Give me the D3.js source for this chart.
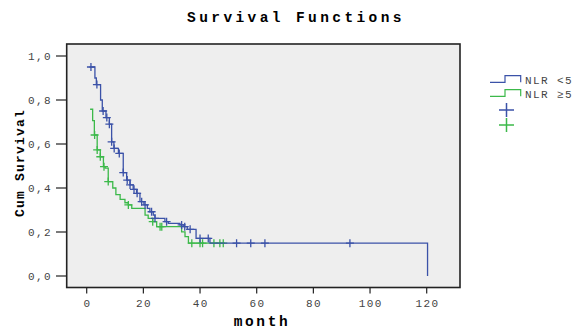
<!DOCTYPE html>
<html>
<head>
<meta charset="utf-8">
<script src="https://cdn.jsdelivr.net/npm/d3@7"></script>
<style>
  body { margin: 0; background: #fff; }
  svg text { font-family: "Liberation Mono", "DejaVu Sans Mono", monospace; }
</style>
</head>
<body>
<svg id="chart" width="577" height="329"></svg>
<script>
// group labels
let groups = ["NLR <5", "NLR \u22655"];
let colors = ["#3b52a8", "#3cb94a"];

// step curves: time (month) at which survival drops, and new survival
let blueTimes = [1, 2.9, 3.4, 4.9, 5.5, 6.8, 8.0, 8.8, 9.6, 11.2, 12.9, 14.1, 15.3, 16.4, 17.6, 18.8, 20.2, 21.4, 22.3, 23.5, 24.1, 27.6, 28.8, 32.9, 34.3, 35.5, 38.6, 43.5];
let blueSurv = [0.95, 0.90, 0.87, 0.80, 0.75, 0.72, 0.69, 0.61, 0.58, 0.557, 0.47, 0.436, 0.414, 0.394, 0.376, 0.338, 0.323, 0.307, 0.292, 0.277, 0.262, 0.247, 0.239, 0.232, 0.224, 0.212, 0.171, 0.149];
let blueEnd = 120.3;
let blueCensor = [1.5, 3.6, 5.8, 7.1, 8.0, 8.8, 9.7, 11.5, 12.9, 14.3, 15.3, 16.7, 17.8, 19.4, 20.6, 22.9, 24.1, 28.2, 33.5, 34.6, 36.5, 40, 42.9, 52.9, 57.9, 62.9, 92.9];

let greenTimes = [1.2, 2.1, 2.7, 3.7, 4.8, 5.9, 6.5, 7.6, 9.2, 10.3, 11.8, 13.5, 14.7, 15.9, 20.6, 21.7, 23.3, 24.7, 33.5, 34.7, 35.9];
let greenSurv = [0.758, 0.706, 0.641, 0.573, 0.542, 0.497, 0.49, 0.429, 0.40, 0.37, 0.348, 0.333, 0.323, 0.307, 0.277, 0.262, 0.247, 0.224, 0.201, 0.179, 0.149];
let greenEnd = 48.8;
let greenCensor = [2.8, 3.7, 4.8, 6.1, 7.6, 14.7, 23.3, 25.9, 26.5, 37.1, 40, 40.9, 44.9, 47, 48.2];

let xTicks = [0, 20, 40, 60, 80, 100, 120];
let yTicks = [0, 0.2, 0.4, 0.6, 0.8, 1.0];

let svg = d3.select("#chart");

let x = d3.scaleLinear().domain([0, 120]).range([86.7, 426.7]);
let y = d3.scaleLinear().domain([0, 1]).range([276, 56]);

let frame = {left: 66.7, top: 44, right: 460, bottom: 287.5};

svg.append("rect")
    .attr("x", frame.left).attr("y", frame.top)
    .attr("width", frame.right - frame.left).attr("height", frame.bottom - frame.top)
    .attr("fill", "#eeeeee")
    .attr("stroke", "#222").attr("stroke-width", 1.6);

function survAt(times, surv, t) {
    let s = surv[0];
    for (let i = 0; i < times.length; i++) {
        if (t >= times[i]) s = surv[i];
    }
    return s;
}

function stepPath(times, surv, end, drop) {
    let pts = [];
    for (let i = 0; i < times.length; i++) {
        if (i > 0) pts.push([times[i], surv[i - 1]]);
        pts.push([times[i], surv[i]]);
    }
    pts.push([end, surv[surv.length - 1]]);
    if (drop) pts.push([end, 0]);
    return d3.line().x(d => x(d[0])).y(d => y(d[1]))(pts);
}

let series = [
    {times: blueTimes, surv: blueSurv, end: blueEnd, censor: blueCensor, drop: true},
    {times: greenTimes, surv: greenSurv, end: greenEnd, censor: greenCensor, drop: false}
];

// draw green first so blue sits on top
[1, 0].forEach(i => {
    let s = series[i];
    let g = svg.append("g");
    g.append("path")
        .attr("d", stepPath(s.times, s.surv, s.end, s.drop))
        .attr("fill", "none")
        .attr("stroke", colors[i])
        .attr("stroke-width", 1.3);
    g.selectAll("path.c")
        .data(s.censor)
        .enter().append("path")
        .attr("class", "c")
        .attr("d", t => {
            let cx = x(t), cy = y(survAt(s.times, s.surv, t));
            return "M" + (cx - 4) + "," + cy + "H" + (cx + 4) + "M" + cx + "," + (cy - 4) + "V" + (cy + 4);
        })
        .attr("stroke", colors[i])
        .attr("stroke-width", 1.3);
});

// y axis
let yAxis = svg.append("g");
yAxis.selectAll("line")
    .data(yTicks)
    .enter().append("line")
    .attr("x1", 56).attr("x2", frame.left)
    .attr("y1", d => y(d)).attr("y2", d => y(d))
    .attr("stroke", "#222").attr("stroke-width", 1.2);
yAxis.selectAll("text")
    .data(yTicks)
    .enter().append("text")
    .attr("x", 52).attr("y", d => y(d) + 4)
    .attr("text-anchor", "end")
    .attr("font-size", 11)
    .attr("letter-spacing", 1.4)
    .attr("fill", "#444")
    .text(d => d3.format(".1f")(d).replace(".", ","));

// x axis
let xAxis = svg.append("g");
xAxis.selectAll("line")
    .data(xTicks)
    .enter().append("line")
    .attr("x1", d => x(d)).attr("x2", d => x(d))
    .attr("y1", frame.bottom).attr("y2", frame.bottom + 6)
    .attr("stroke", "#222").attr("stroke-width", 1.2);
xAxis.selectAll("text")
    .data(xTicks)
    .enter().append("text")
    .attr("x", d => x(d) + 0.7).attr("y", 307)
    .attr("text-anchor", "middle")
    .attr("font-size", 11)
    .attr("letter-spacing", 1.4)
    .attr("fill", "#444")
    .text(d => d);

// titles
svg.append("text")
    .attr("x", 296).attr("y", 22)
    .attr("text-anchor", "middle")
    .attr("font-size", 14.5).attr("font-weight", "bold")
    .attr("letter-spacing", 3.4)
    .text("Survival Functions");

svg.append("text")
    .attr("x", 262).attr("y", 326)
    .attr("text-anchor", "middle")
    .attr("font-size", 14.5).attr("font-weight", "bold")
    .attr("letter-spacing", 2.6)
    .text("month");

svg.append("text")
    .attr("transform", "translate(24,163) rotate(-90)")
    .attr("text-anchor", "middle")
    .attr("font-size", 13).attr("font-weight", "bold")
    .attr("letter-spacing", 1.2)
    .text("Cum Survival");

// legend
let legend = svg.append("g");
groups.forEach((name, i) => {
    let ly = 82.3 + i * 14;
    legend.append("path")
        .attr("d", "M490," + ly + "H505V" + (ly - 6.6) + "H520.7V" + ly)
        .attr("fill", "none").attr("stroke", colors[i]).attr("stroke-width", 1.2);
    legend.append("text")
        .attr("x", 525).attr("y", ly + 1.5)
        .attr("font-size", 11).attr("letter-spacing", 1.4)
        .attr("fill", "#444")
        .text(name);
    let py = 110 + i * 15;
    legend.append("path")
        .attr("d", "M499," + py + "H514M506.5," + (py - 7) + "V" + (py + 7))
        .attr("stroke", colors[i]).attr("stroke-width", 1.5);
});
</script>
</body>
</html>
